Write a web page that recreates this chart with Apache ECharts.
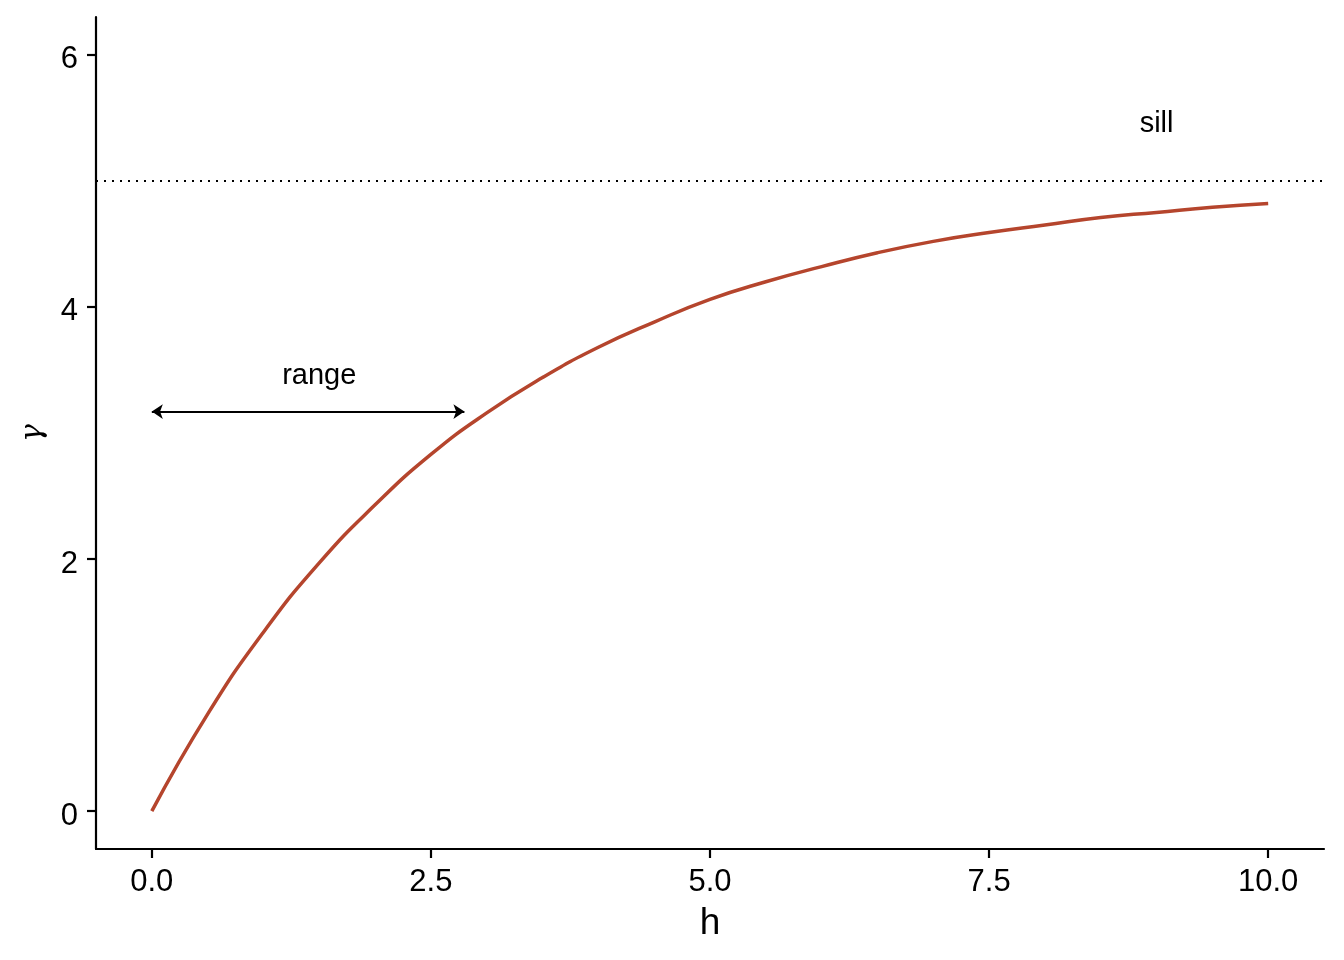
<!DOCTYPE html>
<html>
<head>
<meta charset="utf-8">
<script src="https://cdn.jsdelivr.net/npm/echarts@6/dist/echarts.min.js"></script>
<style>html,body{margin:0;padding:0;background:#fff}#c{width:1344px;height:960px}</style>
</head>
<body>
<div id="c"></div>
<script>
// distance h
const hValues = [0, 0.5, 1, 1.5, 2, 2.5, 3, 3.5, 4, 4.5, 5, 5.5, 6, 6.5, 7, 7.5, 8, 8.5, 9, 9.5, 10];
// semivariance gamma
const gammaValues = [0, 0.77, 1.42, 1.97, 2.43, 2.83, 3.16, 3.44, 3.68, 3.88, 4.06, 4.20, 4.32, 4.43, 4.52, 4.59, 4.65, 4.71, 4.75, 4.79, 4.82];
const sillValue = 5;
const rangeArrowX = [0, 2.8];
const rangeArrowY = 3.17;
const annotationLabels = ['range', 'sill'];
const annotationX = [1.5, 9];
const annotationY = [3.5, 5.5];
const xTicks = [0, 2.5, 5, 7.5, 10];
const yTicks = [0, 2, 4, 6];

const font = 'Liberation Sans, Arial, sans-serif';
const chart = echarts.init(document.getElementById('c'), null, {renderer: 'canvas'});
chart.setOption({
  animation: false,
  backgroundColor: '#fff',
  grid: {left: 96, right: 20, top: 17, bottom: 111, containLabel: false},
  xAxis: {
    type: 'value', min: -0.5, max: 10.5,
    name: 'h', nameLocation: 'middle', nameGap: 56,
    nameTextStyle: {fontFamily: font, fontSize: 37, color: '#000'},
    axisLine: {show: true, onZero: false, lineStyle: {color: '#000', width: 2.2}},
    axisTick: {show: true, length: 9, lineStyle: {color: '#000', width: 2.2}, customValues: xTicks},
    axisLabel: {fontFamily: font, fontSize: 31, color: '#000', margin: 18, customValues: xTicks,
      formatter: v => v.toFixed(1)},
    splitLine: {show: false}
  },
  yAxis: {
    type: 'value', min: -0.3, max: 6.3,
    name: 'γ', nameLocation: 'middle', nameGap: 48, nameRotate: 90,
    nameTextStyle: {fontFamily: 'DejaVu Serif, serif', fontStyle: 'italic', fontSize: 30, color: '#000'},
    axisLine: {show: true, onZero: false, lineStyle: {color: '#000', width: 2.2}},
    axisTick: {show: true, length: 9, lineStyle: {color: '#000', width: 2.2}, customValues: yTicks},
    axisLabel: {fontFamily: font, fontSize: 31, color: '#000', margin: 18, customValues: yTicks,
      formatter: v => '{a|' + v + '}',
      rich: {a: {fontFamily: font, fontSize: 31, color: '#000', padding: [10, 0, 0, 0]}}},
    splitLine: {show: false}
  },
  series: [
    {
      type: 'line',
      data: hValues.map((h, i) => [h, gammaValues[i]]),
      smooth: true,
      showSymbol: false,
      lineStyle: {color: '#B5452D', width: 3.5},
      markLine: {
        silent: true,
        symbol: 'none',
        label: {show: false},
        lineStyle: {color: '#000', type: [2, 6], width: 2},
        data: [{yAxis: sillValue}]
      },
      z: 3
    },
    {
      type: 'line',
      data: [],
      markLine: {
        silent: true,
        symbol: ['arrow', 'arrow'],
        symbolSize: [11, 11],
        label: {show: false},
        lineStyle: {color: '#000', type: 'solid', width: 2.2},
        data: [[{coord: [rangeArrowX[0], rangeArrowY]}, {coord: [rangeArrowX[1], rangeArrowY]}]]
      }
    },
    {
      type: 'scatter',
      symbolSize: 0,
      itemStyle: {opacity: 1},
      data: annotationLabels.map((t, i) => ({value: [annotationX[i], annotationY[i]], name: t})),
      label: {show: true, position: 'inside', offset: [0, 6], formatter: p => p.name,
        fontFamily: font, fontSize: 29, color: '#000', opacity: 1, textBorderWidth: 0}
    }
  ]
});
</script>
</body>
</html>
